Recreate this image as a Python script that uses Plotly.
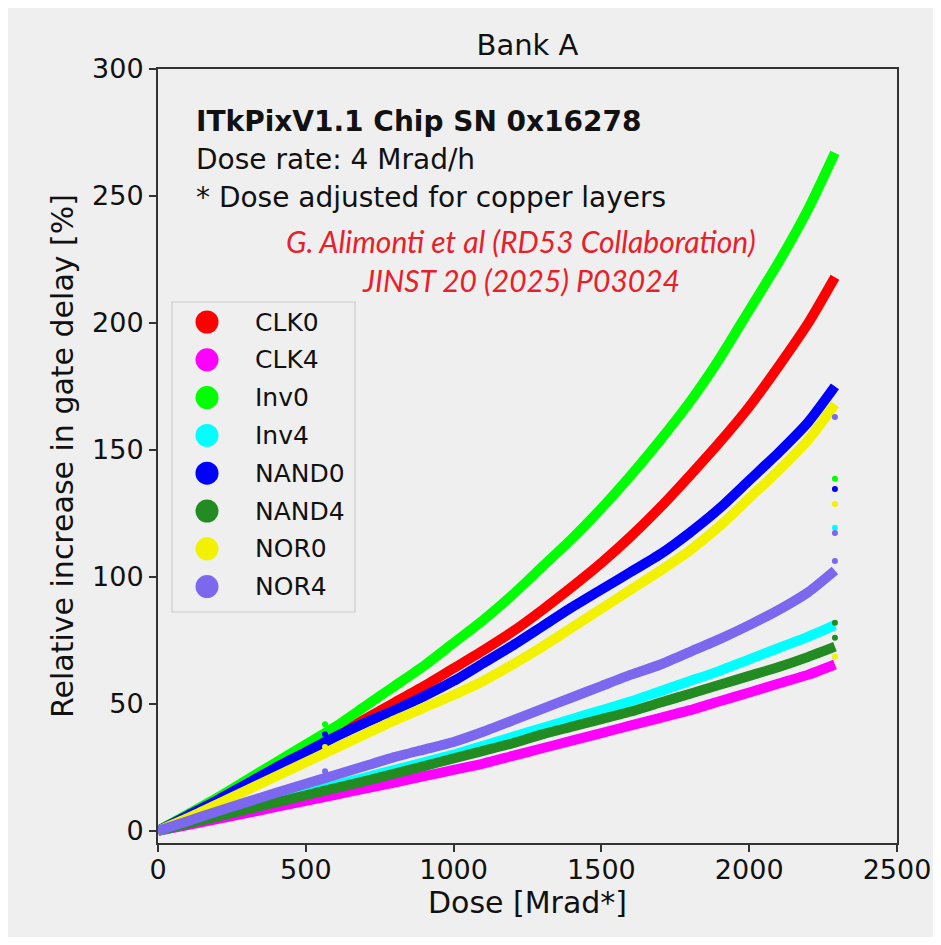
import plotly.graph_objects as go

# values, every 100 Mrad* (last point is the end of irradiation)
dose = [0, 100, 200, 300, 400, 500, 600, 700, 800, 900, 1000, 1100, 1200,
        1300, 1400, 1500, 1600, 1700, 1800, 1900, 2000, 2100, 2200, 2290]

clk0 = [0, 6, 12, 18.5, 25, 31, 37.5, 44, 50.5, 57, 64, 71, 78.5,
        87, 96, 105.5, 116, 127.5, 140, 153, 167, 183, 200, 218]
clk4 = [0, 2.3, 4.6, 7, 9.4, 11.8, 14.2, 16.6, 19, 21.5, 24, 26.5, 29.5,
        32.5, 35.5, 38.5, 41.5, 44.5, 47.5, 51, 54.5, 58, 61.5, 65.5]
inv0 = [0, 6.5, 13, 20, 27, 34, 41, 49, 57, 65, 74, 83, 93,
        104, 115, 127, 140, 154, 169, 186, 205, 224, 245, 267]
inv4 = [0, 3, 6, 9, 12, 15, 18, 21, 24, 27, 30, 33.5, 37,
        40.5, 44, 47.5, 51, 55, 59, 63, 67.5, 72, 76.5, 81]
nand0 = [0, 6, 12, 18.5, 25, 31, 37, 42.5, 47.5, 53, 59, 66, 73,
         80.5, 88, 95, 102, 109, 117.5, 127, 138, 149, 161, 175]
nand4 = [0, 2.8, 5.6, 8.4, 11.2, 14, 16.8, 19.6, 22.5, 25.5, 28.5, 31.5, 34.5,
         38, 41, 44, 47, 50.5, 54, 57.5, 61, 64.5, 68.5, 72.5]
nor0 = [0, 5, 10.5, 16, 21.5, 27, 32.5, 38, 43.5, 48.5, 53.5, 59, 65.5,
        72.5, 80, 87.5, 95, 102.5, 110.5, 120, 131, 142, 154, 168]
nor4 = [0, 3.8, 7.6, 11.3, 15, 18.5, 22, 25.5, 29, 32, 35, 39, 43.5,
        48, 52.5, 57, 61.5, 65.5, 70.5, 75.5, 81, 87, 94, 102.5]

names = ["CLK0", "CLK4", "Inv0", "Inv4", "NAND0", "NAND4", "NOR0", "NOR4"]
series = [clk0, clk4, inv0, inv4, nand0, nand4, nor0, nor4]
colors = ["#ff0000", "#ff00ff", "#00ff00", "#00ffff",
          "#0000ff", "#228b22", "#f2f200", "#7b68ee"]

# stray single points (beam stop at ~565 and end of run)
stray_name = ["Inv0", "NAND0", "NOR0", "NOR4",
              "NOR4", "Inv0", "NAND0", "NOR0", "Inv4", "NOR4", "NOR4", "NAND4", "NAND4", "NOR0"]
stray_dose = [565, 565, 565, 565,
              2290, 2290, 2290, 2290, 2290, 2290, 2290, 2290, 2290, 2290]
stray_val = [42, 38, 33, 23.5,
             163, 138.6, 134.6, 128.7, 119.3, 117.3, 106.3, 81.9, 76, 68.5]

# the page sits 8px in from the window edge; positions below are window pixels
OFF = 8
W, H = 926, 929
L, R, T, B = 158, 897, 69, 843  # plot frame


def px(x):
    return (x - L) / (R - L)


def py(y):
    return (B - y) / (B - T)


fig = go.Figure()
for name, vals, col in zip(names, series, colors):
    fig.add_trace(go.Scatter(x=dose, y=vals, name=name, mode='lines',
                             line={'color': col, 'width': 10, 'shape': 'spline', 'smoothing': 0.6},
                             showlegend=False))

for name, col in zip(names, colors):
    xs = [d for d, n in zip(stray_dose, stray_name) if n == name]
    ys = [v for v, n in zip(stray_val, stray_name) if n == name]
    if xs:
        fig.add_trace(go.Scatter(x=xs, y=ys, mode='markers', showlegend=False,
                                 marker={'color': col, 'size': 6, 'line': {'width': 0}}))

font = "DejaVu Sans"
bg = '#efefef'
ink = '#111111'

shapes = [
    # legend frame
    dict(type='rect', xref='paper', yref='paper', x0=px(172), x1=px(355), y0=py(612), y1=py(302),
         fillcolor=bg, line={'color': '#cccccc', 'width': 1.2}),
]
annotations = []
for i, (name, col) in enumerate(zip(names, colors)):
    yc = py(322 + 37.8 * i)
    shapes.append(dict(type='circle', xref='paper', yref='paper', xsizemode='pixel', ysizemode='pixel',
                       xanchor=px(207), yanchor=yc, x0=-11.5, x1=11.5, y0=-11.5, y1=11.5,
                       fillcolor=col, line={'width': 0}))
    annotations.append(dict(x=px(253), y=yc, xref='paper', yref='paper', text=name, showarrow=False,
                            xanchor='left', yanchor='middle', font={'family': font, 'size': 25, 'color': ink}))

text_lines = [
    ("<b>ITkPixV1.1 Chip SN 0x16278</b>", 121),
    ("Dose rate: 4 Mrad/h", 159),
    ("* Dose adjusted for copper layers", 198),
]
for txt, yy in text_lines:
    annotations.append(dict(x=px(194), y=py(yy), xref='paper', yref='paper', text=txt, showarrow=False,
                            xanchor='left', yanchor='middle', font={'family': font, 'size': 28, 'color': ink}))

for txt, yy in [("<i>G. Alimonti et al (RD53 Collaboration)</i>", 241),
                ("<i>JINST 20 (2025) P03024</i>", 280)]:
    annotations.append(dict(x=px(521), y=py(yy), xref='paper', yref='paper', text=txt, showarrow=False,
                            xanchor='center', yanchor='middle', font={'family': 'Lato', 'size': 30, 'color': '#e8202a'}))

axis_common = dict(showline=True, linecolor='#333333', linewidth=2, mirror=True, showgrid=False,
                   zeroline=False, ticks='outside', ticklen=7, tickwidth=1.5, tickcolor='#333333',
                   automargin=False, tickfont={'family': font, 'size': 27, 'color': ink})

fig.update_layout(
    width=W, height=H,
    paper_bgcolor=bg, plot_bgcolor=bg,
    margin={'l': L - OFF, 'r': W - (R - OFF), 't': T - OFF, 'b': H - (B - OFF), 'pad': 0},
    title={'text': 'Bank A', 'xref': 'paper', 'x': 0.5, 'xanchor': 'center',
           'y': 1 - (45 - OFF) / H, 'yanchor': 'middle',
           'font': {'family': font, 'size': 29, 'color': ink}},
    xaxis=dict(range=[0, 2500], tickvals=[0, 500, 1000, 1500, 2000, 2500], ticklabelstandoff=-5,
               title={'text': 'Dose [Mrad*]', 'font': {'family': font, 'size': 30, 'color': ink}, 'standoff': 8},
               **axis_common),
    yaxis=dict(range=[-4.8, 300], tickvals=[0, 50, 100, 150, 200, 250, 300],
               title={'text': 'Relative increase in gate delay [%]',
                      'font': {'family': font, 'size': 30, 'color': ink}, 'standoff': 10},
               **axis_common),
    shapes=shapes, annotations=annotations, showlegend=False,
)

fig.write_html("out.html")
